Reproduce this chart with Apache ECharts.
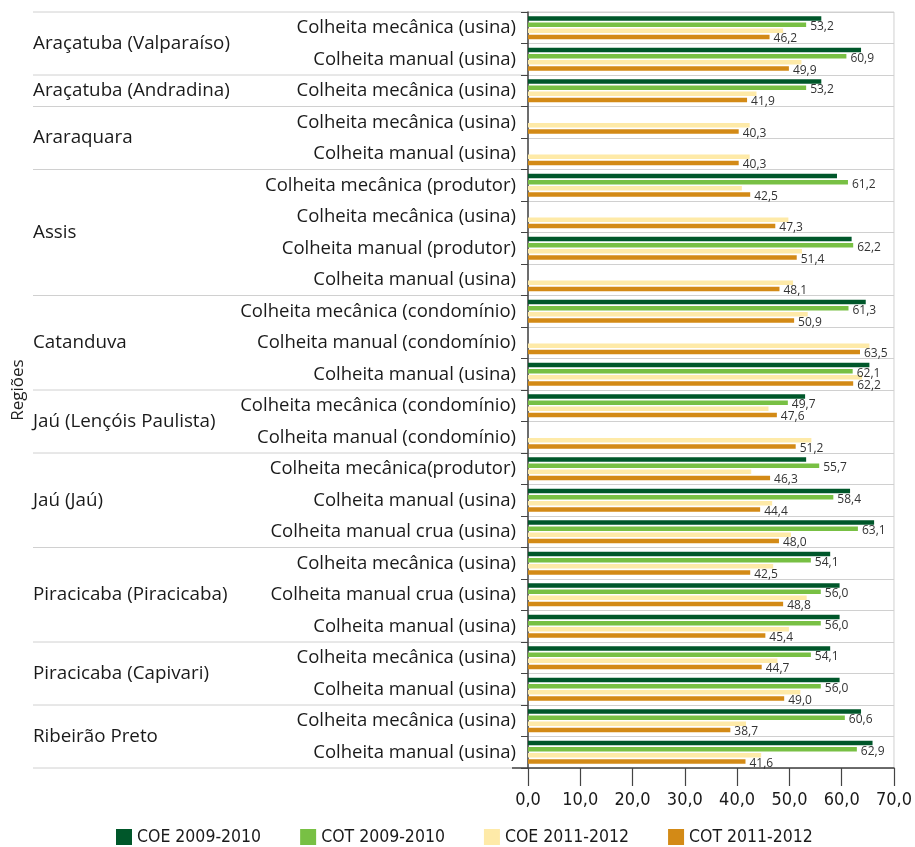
<!DOCTYPE html>
<html>
<head>
<meta charset="utf-8">
<script src="https://cdn.jsdelivr.net/npm/echarts@6/dist/echarts.min.js"></script>
<style>html,body{margin:0;padding:0;background:#fff}#c{width:915px;height:847px}</style>
</head>
<body>
<div id="c"></div>
<script>
// Subcategory labels (rows, top to bottom)
const categories = [
  'Colheita mecânica (usina)', 'Colheita manual (usina)',
  'Colheita mecânica (usina)',
  'Colheita mecânica (usina)', 'Colheita manual (usina)',
  'Colheita mecânica (produtor)', 'Colheita mecânica (usina)', 'Colheita manual (produtor)', 'Colheita manual (usina)',
  'Colheita mecânica (condomínio)', 'Colheita manual (condomínio)', 'Colheita manual (usina)',
  'Colheita mecânica (condomínio)', 'Colheita manual (condomínio)',
  'Colheita mecânica(produtor)', 'Colheita manual (usina)', 'Colheita manual crua (usina)',
  'Colheita mecânica (usina)', 'Colheita manual crua (usina)', 'Colheita manual (usina)',
  'Colheita mecânica (usina)', 'Colheita manual (usina)',
  'Colheita mecânica (usina)', 'Colheita manual (usina)'
];
// Region groups: name and number of rows
const regions = ['Araçatuba (Valparaíso)', 'Araçatuba (Andradina)', 'Araraquara', 'Assis', 'Catanduva',
  'Jaú (Lençóis Paulista)', 'Jaú (Jaú)', 'Piracicaba (Piracicaba)', 'Piracicaba (Capivari)', 'Ribeirão Preto'];
const regionRows = [2, 1, 2, 4, 3, 2, 3, 3, 2, 2];

const seriesNames = ['COE 2009-2010', 'COT 2009-2010', 'COE 2011-2012', 'COT 2011-2012'];
const coe0910 = [56.1, 63.7, 56.1, null, null, 59.1, null, 61.9, null, 64.6, null, 65.3, 53.0, null, 53.2, 61.6, 66.2, 57.8, 59.6, 59.6, 57.8, 59.6, 63.7, 65.9];
const cot0910 = [53.2, 60.9, 53.2, null, null, 61.2, null, 62.2, null, 61.3, null, 62.1, 49.7, null, 55.7, 58.4, 63.1, 54.1, 56.0, 56.0, 54.1, 56.0, 60.6, 62.9];
const coe1112 = [48.8, 52.3, 43.7, 42.4, 42.4, 40.9, 49.8, 52.4, 50.7, 53.5, 65.3, 63.9, 46.0, 54.2, 42.7, 46.7, 50.3, 46.9, 53.3, 49.9, 47.7, 52.1, 41.7, 44.6];
const cot1112 = [46.2, 49.9, 41.9, 40.3, 40.3, 42.5, 47.3, 51.4, 48.1, 50.9, 63.5, 62.2, 47.6, 51.2, 46.3, 44.4, 48.0, 42.5, 48.8, 45.4, 44.7, 49.0, 38.7, 41.6];
const xTicks = [0, 10, 20, 30, 40, 50, 60, 70];

const colors = ['#00572a', '#78c044', '#feeaa8', '#d38a16'];
const fmt = v => v.toFixed(1).replace('.', ',');

const chart = echarts.init(document.getElementById('c'));
const labelCfg = {
  show: true, position: 'right', distance: 4, offset: [0, 2],
  fontFamily: 'Open Sans', fontSize: 12, color: '#333',
  formatter: p => (p.value == null ? '' : fmt(p.value))
};
const mk = (i, data, lbl) => ({
  name: seriesNames[i], type: 'bar', data: data,
  barWidth: 4.6, barGap: '33%',
  itemStyle: { color: colors[i] },
  label: lbl ? labelCfg : { show: false },
  emphasis: { disabled: true }, animation: false
});

chart.setOption({
  animation: false,
  grid: { left: 528, right: 19, top: 12, bottom: 79, show: true, borderColor: '#d0d0d0', borderWidth: 1 },
  xAxis: {
    type: 'value', min: xTicks[0], max: xTicks[xTicks.length - 1], interval: 10,
    axisLine: { show: true, lineStyle: { color: '#444', width: 1.5 } },
    axisTick: { show: true, length: 18, lineStyle: { color: '#444', width: 1.2 } },
    axisLabel: { margin: 23, fontFamily: 'DejaVu Sans Condensed', fontSize: 18, color: '#1a1a1a', formatter: v => fmt(v) },
    splitLine: { show: false }
  },
  yAxis: {
    type: 'category', inverse: true, data: categories,
    name: 'Regiões', nameLocation: 'middle', nameGap: 501, nameRotate: 90,
    nameTextStyle: { fontFamily: 'Open Sans', fontSize: 17, color: '#222' },
    axisLine: { show: true, lineStyle: { color: '#444', width: 1.5 } },
    axisTick: { show: true, length: 7, lineStyle: { color: '#444' } },
    axisLabel: { margin: 12, fontFamily: 'Open Sans', fontSize: 18.5, color: '#1a1a1a' },
    splitLine: { show: true, lineStyle: { color: '#d0d0d0', width: 1 } }
  },
  legend: {
    top: 823, left: 111, itemWidth: 16, itemHeight: 16, itemGap: 39,
    icon: 'rect', data: seriesNames,
    textStyle: { fontFamily: 'DejaVu Sans Condensed', fontSize: 17.5, color: '#1a1a1a' }
  },
  series: [mk(0, coe0910, false), mk(1, cot0910, true), mk(2, coe1112, false), mk(3, cot1112, true)]
});

// Region labels and group separators computed from the axis scale
const p0 = chart.convertToPixel({ yAxisIndex: 0 }, 0);
const p1 = chart.convertToPixel({ yAxisIndex: 0 }, 1);
const band = p1 - p0;
const axisX = chart.convertToPixel({ xAxisIndex: 0 }, 0);
const graphics = [];
let idx = 0;
const lineStyle = { stroke: '#d0d0d0', lineWidth: 1 };
graphics.push({ type: 'line', shape: { x1: 33, y1: p0 - band / 2, x2: axisX, y2: p0 - band / 2 }, style: lineStyle, silent: true });
regions.forEach((r, g) => {
  const first = chart.convertToPixel({ yAxisIndex: 0 }, idx);
  const last = chart.convertToPixel({ yAxisIndex: 0 }, idx + regionRows[g] - 1);
  graphics.push({
    type: 'text', x: 33, y: (first + last) / 2,
    style: { text: r, font: '18.8px "Open Sans"', fill: '#1a1a1a', verticalAlign: 'middle', textVerticalAlign: 'middle' }, silent: true
  });
  const yb = last + band / 2;
  graphics.push({ type: 'line', shape: { x1: 33, y1: yb, x2: axisX, y2: yb }, style: lineStyle, silent: true });
  idx += regionRows[g];
});
const yBottom = p0 - band / 2 + band * categories.length;
graphics.push({ type: 'line', shape: { x1: axisX - 16, y1: yBottom, x2: axisX, y2: yBottom }, style: { stroke: '#444', lineWidth: 1.5 }, silent: true });
chart.setOption({ graphic: graphics });
</script>
</body>
</html>
